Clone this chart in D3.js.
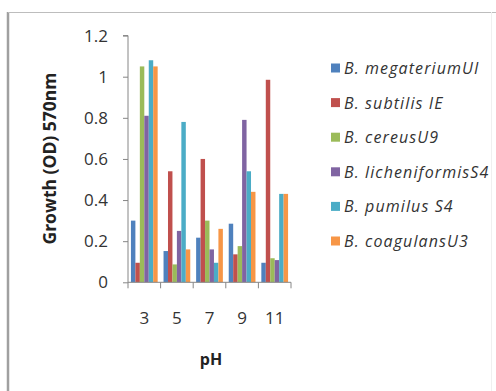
<!DOCTYPE html>
<html><head><meta charset="utf-8">
<script src="https://cdn.jsdelivr.net/npm/d3@7"></script>
<style>body{margin:0;background:#fff;}svg{display:block;font-family:"Open Sans",sans-serif;}</style>
</head><body>
<svg id="c" width="496" height="391"></svg>
<script>
const categories = ["3","5","7","9","11"];
const seriesNames = ["B. megateriumUI","B. subtilis IE","B. cereusU9","B. licheniformisS4","B. pumilus S4","B. coagulansU3"];
const megaterium = [0.30,0.152,0.217,0.285,0.095];
const subtilis = [0.095,0.54,0.60,0.136,0.985];
const cereus = [1.05,0.087,0.30,0.176,0.117];
const licheniformis = [0.81,0.25,0.16,0.79,0.108];
const pumilus = [1.08,0.78,0.095,0.54,0.43];
const coagulans = [1.05,0.16,0.26,0.44,0.43];
const yTicks = [0,0.2,0.4,0.6,0.8,1,1.2];
const colors = ["#4F81BD","#C0504D","#9BBB59","#8064A2","#4BACC6","#F79646"];
const seriesValues = [megaterium,subtilis,cereus,licheniformis,pumilus,coagulans];

const svg = d3.select("#c");
// frame
svg.append("line").attr("x1",8).attr("x2",8).attr("y1",12).attr("y2",391).attr("stroke","#a0a0a0").attr("stroke-width",2.5);
svg.append("line").attr("x1",8).attr("x2",496).attr("y1",12.5).attr("y2",12.5).attr("stroke","#bdbdbd").attr("stroke-width",1);
svg.append("line").attr("x1",491.5).attr("x2",491.5).attr("y1",12).attr("y2",391).attr("stroke","#f0f0f0").attr("stroke-width",1);

const x0 = 128, x1 = 291, yb = 282.3;
const x = d3.scaleBand().domain(categories).range([x0,x1]).paddingInner(0.18).paddingOuter(0.09);
const xs = d3.scaleBand().domain(d3.range(seriesNames.length)).range([0,x.bandwidth()]);
const y = d3.scaleLinear().domain([0,1.2]).range([yb, yb-1.2*205.6]);

// bars
seriesValues.forEach((vals,si)=>{
  svg.append("g").selectAll("rect").data(vals).join("rect")
    .attr("x",(d,i)=>x(categories[i])+xs(si))
    .attr("width",xs.bandwidth())
    .attr("y",d=>y(d))
    .attr("height",d=>yb-y(d))
    .attr("fill",colors[si]);
});

// y axis
const yAxis = svg.append("g").attr("transform",`translate(${x0},0)`)
  .call(d3.axisLeft(y).tickValues(yTicks).tickSize(5).tickPadding(15).tickFormat(d=>String(+d.toFixed(1))));
yAxis.select(".domain").attr("stroke","#868686").attr("d",`M-5,${y(1.2)}H0V${yb}`);
yAxis.selectAll(".tick line").attr("stroke","#868686");
yAxis.selectAll("text").attr("font-size",17).attr("fill","#333").attr("font-family","Open Sans");

// x axis
const step = x.step();
const bounds = d3.range(categories.length+1).map(i=>x0 + i*step);
svg.append("line").attr("x1",x0).attr("x2",bounds[bounds.length-1]).attr("y1",yb).attr("y2",yb).attr("stroke","#868686");
svg.append("g").selectAll("line").data(bounds).join("line")
  .attr("x1",d=>d).attr("x2",d=>d).attr("y1",yb).attr("y2",yb+6).attr("stroke","#868686");
svg.append("g").selectAll("text").data(categories).join("text")
  .attr("x",d=>x(d)+x.bandwidth()/2).attr("y",324)
  .attr("text-anchor","middle").attr("font-size",17).attr("fill","#333").text(d=>d);

// axis titles
svg.append("text").attr("x",211).attr("y",365).attr("text-anchor","middle")
  .attr("font-size",16).attr("font-weight","bold").attr("fill","#222").text("pH");
svg.append("text").attr("transform","translate(56,158.5) rotate(-90)").attr("text-anchor","middle")
  .attr("font-size",17.5).attr("font-weight","bold").attr("fill","#222").text("Growth (OD) 570nm");

// legend
const lg = svg.append("g").selectAll("g").data(seriesNames).join("g")
  .attr("transform",(d,i)=>`translate(331,${68+i*34.6})`);
lg.append("rect").attr("x",0).attr("y",-4.5).attr("width",9).attr("height",9).attr("fill",(d,i)=>colors[i]);
lg.append("text").attr("x",13).attr("y",6).attr("font-size",16).attr("letter-spacing",1.1).attr("font-style","italic").attr("fill","#333").text(d=>d);
</script>
</body></html>
